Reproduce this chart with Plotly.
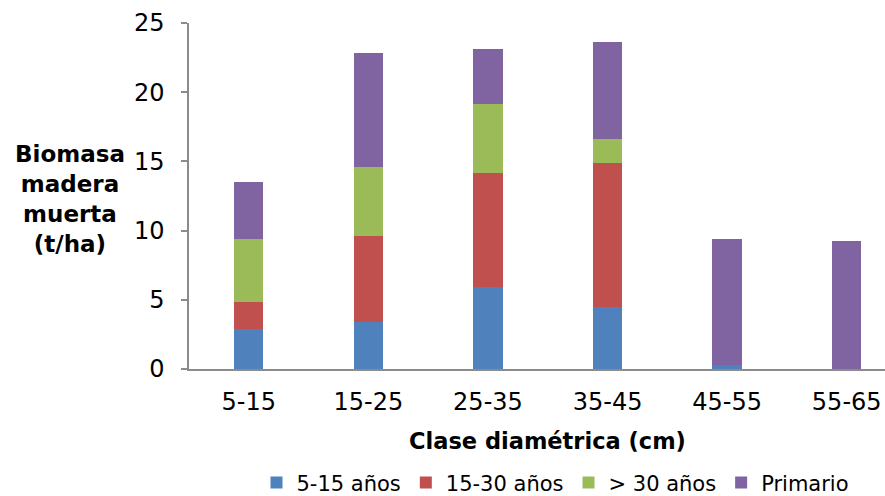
import plotly.graph_objects as go

categories = ["5-15", "15-25", "25-35", "35-45", "45-55", "55-65"]
series_names = ["5-15 años", "15-30 años", "> 30 años", "Primario"]
blue_5_15 = [2.92, 3.38, 5.89, 4.49, 0.31, 0.0]
red_15_30 = [1.94, 6.21, 8.24, 10.39, 0.0, 0.0]
green_30 = [4.54, 5.01, 5.00, 1.76, 0.0, 0.0]
purple_primario = [4.08, 8.25, 4.01, 6.96, 9.09, 9.25]
y_ticks = [0, 5, 10, 15, 20, 25]

colors = ["#4F81BD", "#C0504D", "#9BBB59", "#8064A2"]
FONT = "DejaVu Sans"

fig = go.Figure()
for name, vals, col in zip(series_names, [blue_5_15, red_15_30, green_30, purple_primario], colors):
    fig.add_trace(go.Bar(x=categories, y=vals, name=name, marker=dict(color=col, line=dict(width=0))))

fig.update_layout(
    barmode="stack",
    bargap=0.755,
    width=885, height=496,
    margin=dict(l=189, r=0, t=23, b=127, autoexpand=False),
    paper_bgcolor="white", plot_bgcolor="white",
    font=dict(family=FONT, color="#000000", size=24),
    showlegend=True,
    legend=dict(orientation="h", x=0.097, xanchor="left", y=-0.329, yanchor="middle",
                font=dict(size=21, family=FONT), traceorder="normal", bgcolor="rgba(0,0,0,0)"),
    xaxis=dict(range=[-0.5, 5.32], showline=True, linecolor="#8c8c8c", linewidth=1.5,
               ticks="", tickfont=dict(size=24), ticklabelstandoff=10, showgrid=False, zeroline=False),
    yaxis=dict(range=[0, 25], tickvals=y_ticks, showline=True, linecolor="#8c8c8c", linewidth=1.5,
               ticks="outside", ticklen=6, tickcolor="#8c8c8c", tickwidth=1.5,
               tickfont=dict(size=24), ticklabelstandoff=12, showgrid=False, zeroline=False),
    annotations=[
        dict(text="Clase diamétrica (cm)", xref="x", yref="paper", x=2.5, y=-0.208,
             xanchor="center", yanchor="middle", showarrow=False,
             font=dict(size=22.5, family=FONT, color="#000000", weight="bold")),
        dict(text="Biomasa<br>madera<br>muerta<br>(t/ha)", xref="paper", yref="paper",
             x=-0.171, y=0.492, xanchor="center", yanchor="middle", showarrow=False,
             align="center", font=dict(size=23, family=FONT, color="#000000", weight="bold")),
    ],
)

fig.write_html("out.html", config={"displayModeBar": False},
               post_script="document.body.style.margin='0';document.body.style.overflow='hidden';")
